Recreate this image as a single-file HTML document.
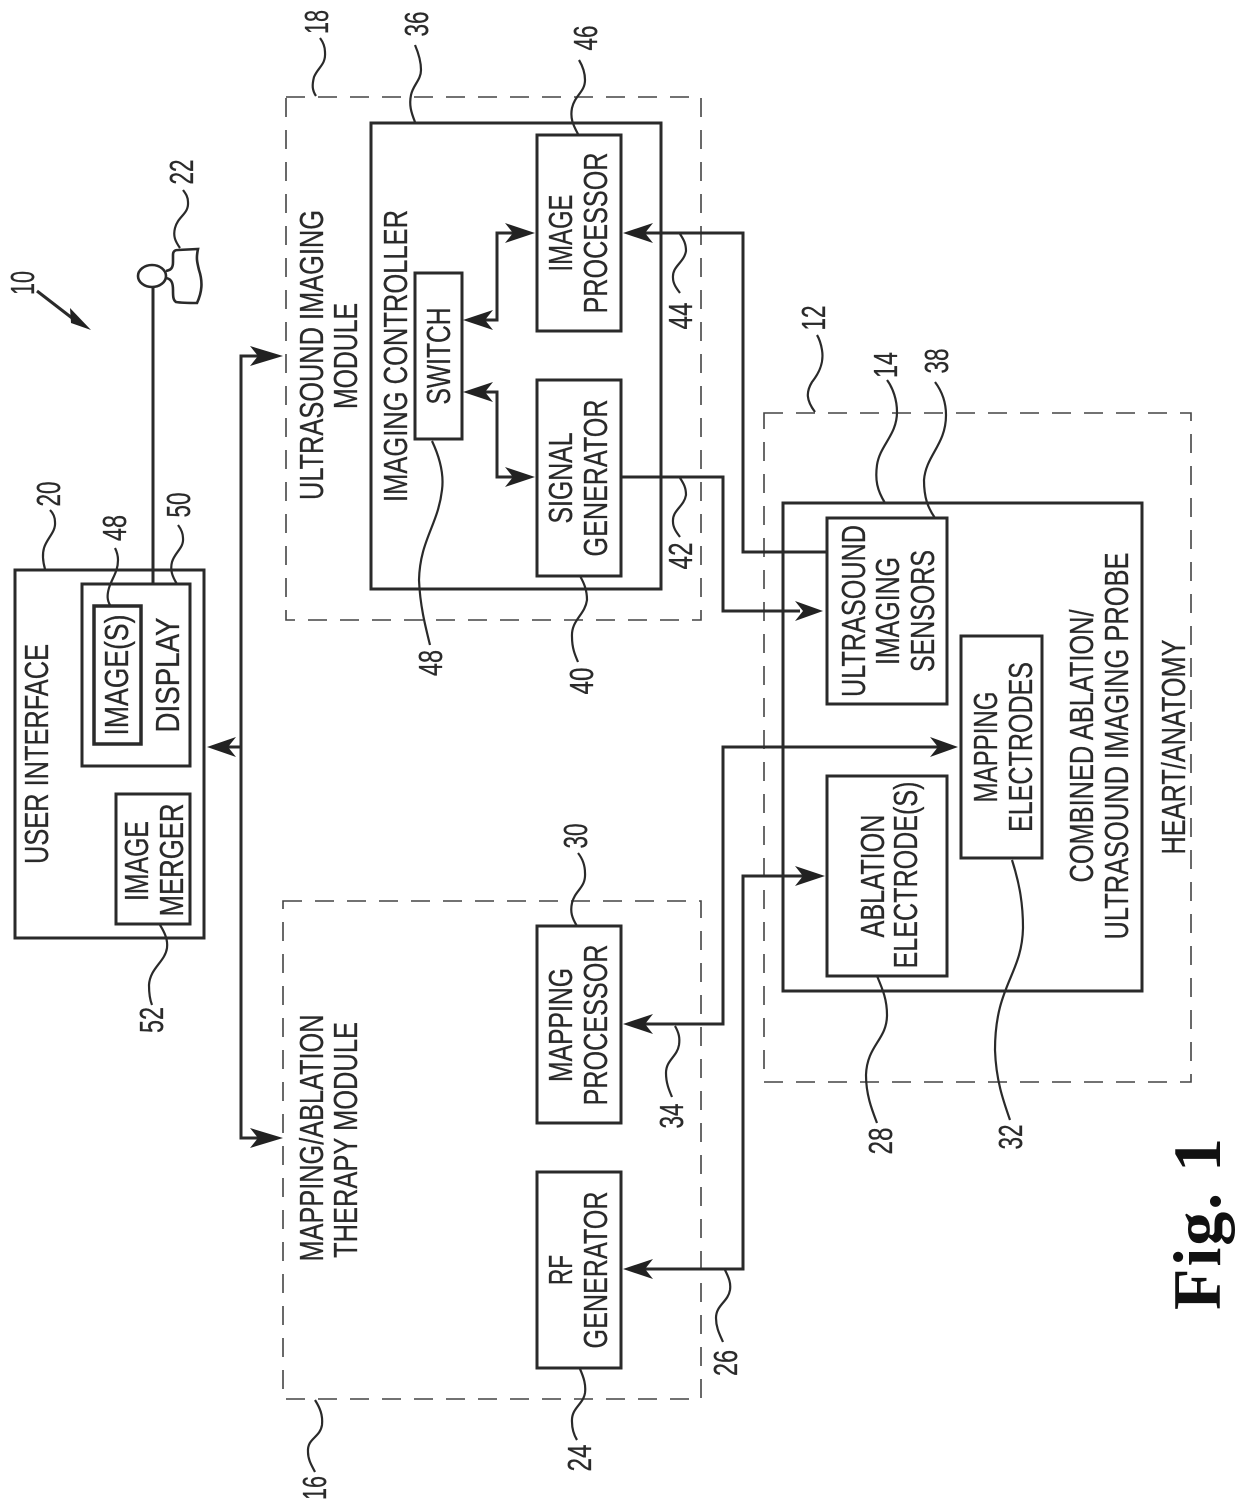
<!DOCTYPE html>
<html><head><meta charset="utf-8"><style>
html,body{margin:0;padding:0;background:#fff}
svg{display:block}
text{font-family:"Liberation Sans",sans-serif;font-size:33px;fill:#2a2a2a;stroke:#2a2a2a;stroke-width:.3;text-anchor:middle}
.box{fill:none;stroke:#2a2a2a;stroke-width:3}
.d{fill:none;stroke:#444;stroke-width:1.6;stroke-dasharray:19 13}
.l{fill:none;stroke:#2a2a2a;stroke-width:3}
.s{fill:none;stroke:#2a2a2a;stroke-width:2.2}
.a{fill:#222;stroke:none}
</style></head><body>
<svg xmlns="http://www.w3.org/2000/svg" width="1240" height="1510" viewBox="0 0 1240 1510">
<rect width="1240" height="1510" fill="#fff"/>
<!-- dashed -->
<rect class="d" x="286" y="97" width="415" height="523"/>
<rect class="d" x="283" y="901" width="418" height="498"/>
<rect class="d" x="764" y="413" width="427" height="669"/>
<!-- boxes -->
<rect class="box" x="15" y="570" width="189" height="368"/>
<rect class="box" x="82" y="584" width="108" height="182"/>
<rect class="box" x="94" y="606" width="47" height="138" style="stroke-width:3.5"/>
<rect class="box" x="116" y="794" width="74" height="130"/>
<rect class="box" x="371" y="123" width="290" height="466"/>
<rect class="box" x="537" y="135" width="84" height="196"/>
<rect class="box" x="537" y="380" width="84" height="196"/>
<rect class="box" x="415" y="273" width="47" height="166"/>
<rect class="box" x="783" y="503" width="359" height="488"/>
<rect class="box" x="827" y="518" width="120" height="186"/>
<rect class="box" x="827" y="776" width="120" height="200"/>
<rect class="box" x="961" y="636" width="81" height="222"/>
<rect class="box" x="537" y="926" width="84" height="197"/>
<rect class="box" x="537" y="1172" width="84" height="196"/>
<!-- connectors -->
<path class="l" d="M262 356H241V1138H262M241 747H225"/>
<path class="l" d="M153 287V584"/>
<path class="l" d="M621 477H723V611H800"/>
<path class="l" d="M640 233H743V552H827"/>
<path class="l" d="M640 1024H723V747H945"/>
<path class="l" d="M640 1269H743V876H810"/>
<path class="l" d="M480 320H497V233H520"/>
<path class="l" d="M480 392H497V477H520"/>
<path class="l" d="M37 291L72 318"/>
<!-- arrows -->
<path class="a" d="M283 356L250 346L258 356L250 366Z"/>
<path class="a" d="M283 1138L250 1128L258 1138L250 1148Z"/>
<path class="a" d="M207 747L236 737L228 747L236 757Z"/>
<path class="a" d="M535 233L505 223L513 233L505 243Z"/>
<path class="a" d="M535 477L505 467L513 477L505 487Z"/>
<path class="a" d="M463 320L493 310L485 320L493 330Z"/>
<path class="a" d="M463 392L493 382L485 392L493 402Z"/>
<path class="a" d="M623 233L653 223L645 233L653 243Z"/>
<path class="a" d="M623 1024L653 1014L645 1024L653 1034Z"/>
<path class="a" d="M623 1269L653 1259L645 1269L653 1279Z"/>
<path class="a" d="M823 611L795 601L803 611L795 621Z"/>
<path class="a" d="M958 747L930 737L938 747L930 757Z"/>
<path class="a" d="M825 876L795 866L803 876L795 886Z"/>
<path class="a" d="M91 330L70 308L71 323Z"/>
<!-- person -->
<ellipse class="s" cx="152" cy="276" rx="14" ry="11" style="stroke-width:2.6"/>
<path class="s" style="stroke-width:2.6" d="M166 271C171 270 173 268 173 262V255C173 251 175 250 178 250L198 249C196 258 197 262 199 270C203 282 202 292 197 303C188 303 182 303 176 302C173 300 173 296 173 290C173 284 172 279 166 278"/>
<!-- squiggles -->
<path class="s" d="M180 248C175 241 173 236 175 228C178 216 189 214 188 202C188 197 186 194 183 190"/>
<path class="s" d="M316 96C312 90 312 85 314 77C318 67 326 65 325 52C325 46 323 42 320 38"/>
<path class="s" d="M415 122C411 112 409 105 411 95C413 85 421 80 421 70C421 60 418 52 415 45"/>
<path class="s" d="M578 134C573 125 570 118 572 108C575 95 585 92 585 80C585 72 582 65 579 60"/>
<path class="s" d="M432 441C440 458 444 475 442 490C438 525 420 540 419 580C420 605 425 625 430 645"/>
<path class="s" d="M580 576C584 583 587 590 587 600C585 615 571 620 572 637C572 648 575 655 578 662"/>
<path class="s" d="M680 478C684 484 686 488 686 495C684 507 672 510 673 522C673 528 677 533 680 537"/>
<path class="s" d="M680 234C684 240 686 244 686 251C684 263 672 266 673 278C673 284 677 289 680 293"/>
<path class="s" d="M110 605C107 600 107 595 109 588C112 578 118 572 118 560C118 555 117 552 115 548"/>
<path class="s" d="M177 584C172 576 170 570 172 562C175 552 184 548 183 538C183 533 181 529 178 525"/>
<path class="s" d="M45 569C43 562 42 555 44 548C47 538 56 532 55 522C55 517 53 513 50 510"/>
<path class="s" d="M160 925C165 933 168 940 167 948C165 962 150 968 149 985C149 993 150 1000 152 1005"/>
<path class="s" d="M877 976C883 990 887 1000 887 1015C887 1040 867 1045 866 1075C866 1095 872 1110 877 1123"/>
<path class="s" d="M1012 860C1020 885 1023 905 1023 928C1022 975 995 985 995 1050C996 1080 1003 1100 1010 1120"/>
<path class="s" d="M577 926C572 918 570 912 572 903C575 890 586 888 585 873C585 865 582 858 578 853"/>
<path class="s" d="M675 1026C679 1033 680 1038 679 1045C677 1057 666 1060 666 1073C666 1083 669 1090 672 1097"/>
<path class="s" d="M580 1369C584 1378 586 1385 585 1393C583 1405 571 1408 572 1422C572 1430 574 1435 577 1440"/>
<path class="s" d="M725 1270C729 1278 731 1283 730 1290C728 1302 716 1305 716 1318C716 1328 720 1335 723 1342"/>
<path class="s" d="M315 1400C320 1408 323 1415 322 1425C320 1438 307 1438 308 1452C308 1460 312 1466 315 1472"/>
<path class="s" d="M885 503C877 490 875 480 877 465C880 445 897 435 897 412C897 400 893 388 887 380"/>
<path class="s" d="M935 518C928 508 924 498 924 480C926 455 946 445 946 415C946 400 941 390 935 382"/>
<path class="s" d="M815 412C806 400 806 392 812 382C820 372 824 362 822 350C821 344 820 340 817 335"/>
<!-- main text -->
<text transform="translate(48,754) rotate(-90)" textLength="220" lengthAdjust="spacingAndGlyphs">USER INTERFACE</text>
<text transform="translate(128,675) rotate(-90)" textLength="121" lengthAdjust="spacingAndGlyphs">IMAGE(S)</text>
<text transform="translate(179,675) rotate(-90)" textLength="115" lengthAdjust="spacingAndGlyphs">DISPLAY</text>
<text transform="translate(148,861) rotate(-90)" textLength="80" lengthAdjust="spacingAndGlyphs">IMAGE</text>
<text transform="translate(183,860) rotate(-90)" textLength="113" lengthAdjust="spacingAndGlyphs">MERGER</text>
<text transform="translate(323,355) rotate(-90)" textLength="290" lengthAdjust="spacingAndGlyphs">ULTRASOUND IMAGING</text>
<text transform="translate(357,356) rotate(-90)" textLength="106" lengthAdjust="spacingAndGlyphs">MODULE</text>
<text transform="translate(407,356) rotate(-90)" textLength="292" lengthAdjust="spacingAndGlyphs">IMAGING CONTROLLER</text>
<text transform="translate(450,356) rotate(-90)" textLength="97" lengthAdjust="spacingAndGlyphs">SWITCH</text>
<text transform="translate(572,233) rotate(-90)" textLength="77" lengthAdjust="spacingAndGlyphs">IMAGE</text>
<text transform="translate(607,233) rotate(-90)" textLength="161" lengthAdjust="spacingAndGlyphs">PROCESSOR</text>
<text transform="translate(572,478) rotate(-90)" textLength="91" lengthAdjust="spacingAndGlyphs">SIGNAL</text>
<text transform="translate(607,478) rotate(-90)" textLength="157" lengthAdjust="spacingAndGlyphs">GENERATOR</text>
<text transform="translate(865,611) rotate(-90)" textLength="172" lengthAdjust="spacingAndGlyphs">ULTRASOUND</text>
<text transform="translate(899,611) rotate(-90)" textLength="108" lengthAdjust="spacingAndGlyphs">IMAGING</text>
<text transform="translate(934,611) rotate(-90)" textLength="122" lengthAdjust="spacingAndGlyphs">SENSORS</text>
<text transform="translate(884,876) rotate(-90)" textLength="123" lengthAdjust="spacingAndGlyphs">ABLATION</text>
<text transform="translate(917,875) rotate(-90)" textLength="187" lengthAdjust="spacingAndGlyphs">ELECTRODE(S)</text>
<text transform="translate(997,747) rotate(-90)" textLength="111" lengthAdjust="spacingAndGlyphs">MAPPING</text>
<text transform="translate(1032,747) rotate(-90)" textLength="170" lengthAdjust="spacingAndGlyphs">ELECTRODES</text>
<text transform="translate(1093,746) rotate(-90)" textLength="273" lengthAdjust="spacingAndGlyphs">COMBINED ABLATION/</text>
<text transform="translate(1128,746) rotate(-90)" textLength="387" lengthAdjust="spacingAndGlyphs">ULTRASOUND IMAGING PROBE</text>
<text transform="translate(1185,747) rotate(-90)" textLength="215" lengthAdjust="spacingAndGlyphs">HEART/ANATOMY</text>
<text transform="translate(323,1138) rotate(-90)" textLength="247" lengthAdjust="spacingAndGlyphs">MAPPING/ABLATION</text>
<text transform="translate(357,1140) rotate(-90)" textLength="236" lengthAdjust="spacingAndGlyphs">THERAPY MODULE</text>
<text transform="translate(572,1025) rotate(-90)" textLength="114" lengthAdjust="spacingAndGlyphs">MAPPING</text>
<text transform="translate(607,1025) rotate(-90)" textLength="161" lengthAdjust="spacingAndGlyphs">PROCESSOR</text>
<text transform="translate(572,1270) rotate(-90)" textLength="30" lengthAdjust="spacingAndGlyphs">RF</text>
<text transform="translate(607,1270) rotate(-90)" textLength="157" lengthAdjust="spacingAndGlyphs">GENERATOR</text>
<!-- reference numbers -->
<text transform="translate(34,283) rotate(-90)" textLength="24" lengthAdjust="spacingAndGlyphs">10</text>
<text transform="translate(193,172) rotate(-90)" textLength="25" lengthAdjust="spacingAndGlyphs">22</text>
<text transform="translate(328,22) rotate(-90)" textLength="24" lengthAdjust="spacingAndGlyphs">18</text>
<text transform="translate(428,24) rotate(-90)" textLength="25" lengthAdjust="spacingAndGlyphs">36</text>
<text transform="translate(597,38) rotate(-90)" textLength="25" lengthAdjust="spacingAndGlyphs">46</text>
<text transform="translate(60,494) rotate(-90)" textLength="25" lengthAdjust="spacingAndGlyphs">20</text>
<text transform="translate(126,528) rotate(-90)" textLength="26" lengthAdjust="spacingAndGlyphs">48</text>
<text transform="translate(190,505) rotate(-90)" textLength="25" lengthAdjust="spacingAndGlyphs">50</text>
<text transform="translate(163,1020) rotate(-90)" textLength="26" lengthAdjust="spacingAndGlyphs">52</text>
<text transform="translate(442,663) rotate(-90)" textLength="26" lengthAdjust="spacingAndGlyphs">48</text>
<text transform="translate(593,681) rotate(-90)" textLength="27" lengthAdjust="spacingAndGlyphs">40</text>
<text transform="translate(692,556) rotate(-90)" textLength="27" lengthAdjust="spacingAndGlyphs">42</text>
<text transform="translate(692,316) rotate(-90)" textLength="27" lengthAdjust="spacingAndGlyphs">44</text>
<text transform="translate(897,365) rotate(-90)" textLength="26" lengthAdjust="spacingAndGlyphs">14</text>
<text transform="translate(948,361) rotate(-90)" textLength="25" lengthAdjust="spacingAndGlyphs">38</text>
<text transform="translate(825,318) rotate(-90)" textLength="25" lengthAdjust="spacingAndGlyphs">12</text>
<text transform="translate(892,1141) rotate(-90)" textLength="27" lengthAdjust="spacingAndGlyphs">28</text>
<text transform="translate(1022,1137) rotate(-90)" textLength="25" lengthAdjust="spacingAndGlyphs">32</text>
<text transform="translate(587,836) rotate(-90)" textLength="25" lengthAdjust="spacingAndGlyphs">30</text>
<text transform="translate(683,1116) rotate(-90)" textLength="25" lengthAdjust="spacingAndGlyphs">34</text>
<text transform="translate(591,1458) rotate(-90)" textLength="27" lengthAdjust="spacingAndGlyphs">24</text>
<text transform="translate(737,1363) rotate(-90)" textLength="26" lengthAdjust="spacingAndGlyphs">26</text>
<text transform="translate(326,1488) rotate(-90)" textLength="24" lengthAdjust="spacingAndGlyphs">16</text>
<!-- figure label -->
<text transform="translate(1220,1224) rotate(-90)" textLength="172" lengthAdjust="spacing" style="font-family:'Liberation Serif',serif;font-weight:bold;font-size:68px;fill:#111;stroke:none">Fig. 1</text>
</svg>
</body></html>
